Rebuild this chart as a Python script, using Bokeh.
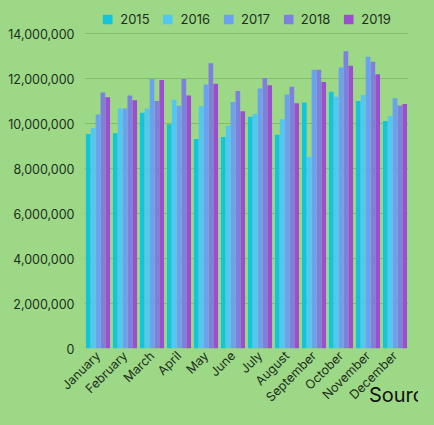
from math import pi
from bokeh.plotting import figure
from bokeh.models import ColumnDataSource, Legend, LegendItem, NumeralTickFormatter, FixedTicker
from bokeh.transform import dodge
from bokeh.embed import file_html
from bokeh.resources import INLINE

months = ["January", "February", "March", "April", "May", "June", "July",
          "August", "September", "October", "November", "December"]
years = ["2015", "2016", "2017", "2018", "2019"]
v2015 = [9550000, 9580000, 10490000, 9980000, 9330000, 9410000, 10320000, 9510000, 10950000, 11430000, 11020000, 10130000]
v2016 = [9810000, 10680000, 10680000, 11070000, 10780000, 9910000, 10450000, 10200000, 8540000, 11210000, 11280000, 10340000]
v2017 = [10420000, 10680000, 12000000, 10810000, 11750000, 10970000, 11570000, 11310000, 12410000, 12510000, 12990000, 11140000]
v2018 = [11400000, 11260000, 11020000, 12000000, 12700000, 11460000, 12040000, 11650000, 12410000, 13230000, 12760000, 10820000]
v2019 = [11180000, 11050000, 11950000, 11260000, 11780000, 10560000, 11720000, 10920000, 11860000, 12580000, 12210000, 10880000]
y_ticks = [0, 2000000, 4000000, 6000000, 8000000, 10000000, 12000000, 14000000]
colors = ["#12c4dc", "#52c7f3", "#6aa1f0", "#7e80e0", "#9b4fcf"]
source_text = "Source2"

BG = "#9cd886"
TXT = "#1e2e1e"

src = ColumnDataSource(dict(month=months, y2015=v2015, y2016=v2016, y2017=v2017,
                            y2018=v2018, y2019=v2019))

p = figure(x_range=months, y_range=(0, 15000000), width=418, height=409,
           output_backend="svg", toolbar_location=None,
           min_border_left=84, min_border_right=10, min_border_top=11, min_border_bottom=52)
p.x_range.range_padding = 0
p.background_fill_color = BG
p.border_fill_color = BG
p.outline_line_color = None

bw = 0.18
items = []
for i, (yr, col) in enumerate(zip(years, colors)):
    r = p.vbar(x=dodge("month", (i - 2) * bw, range=p.x_range), top="y" + yr, width=bw * 0.96,
               source=src, fill_color=col, line_color=None)
    items.append(LegendItem(label=yr, renderers=[r]))

legend = Legend(items=items, orientation="horizontal", location="top_center",
                glyph_width=12, glyph_height=12, label_standoff=7, spacing=12,
                label_text_font="Inter", label_text_font_size="13px", label_text_color=TXT,
                background_fill_alpha=0, border_line_alpha=0, padding=0, margin=0)
p.add_layout(legend, "center")

p.yaxis.ticker = FixedTicker(ticks=y_ticks)
p.yaxis.formatter = NumeralTickFormatter(format="0,0")
for ax in (p.xaxis, p.yaxis):
    ax.axis_line_color = None
    ax.major_tick_line_color = None
    ax.minor_tick_line_color = None
    ax.major_tick_out = 0
    ax.major_tick_in = 0
    ax.minor_tick_out = 0
    ax.major_label_text_font = "Inter"
    ax.major_label_text_font_size = "12.5px"
    ax.major_label_text_color = TXT
p.yaxis.major_label_standoff = 10
p.xaxis.major_label_orientation = pi / 4
p.xaxis.major_label_standoff = 5

p.xaxis.axis_label = source_text
p.xaxis.axis_label_align = "end"
p.xaxis.axis_label_standoff = -30
p.xaxis.axis_label_text_font = "Inter"
p.xaxis.axis_label_text_font_style = "normal"
p.xaxis.axis_label_text_font_size = "20px"
p.xaxis.axis_label_text_color = "#111111"

p.xgrid.grid_line_color = None
p.ygrid.grid_line_color = "#83bd6c"
p.ygrid.grid_line_width = 1

html = file_html(p, INLINE)
html = html.replace("</head>", "<style>html,body{background:%s;}</style></head>" % BG, 1)
open("out.html", "w").write(html)
